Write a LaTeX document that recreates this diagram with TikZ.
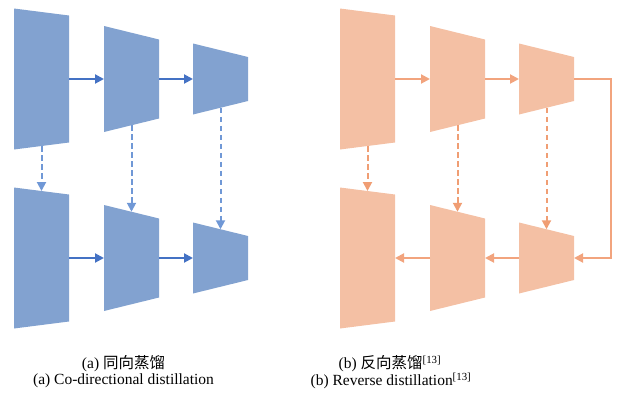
\documentclass[tikz,border=0pt]{standalone}
\usepackage{fontspec}
\setmainfont{Liberation Serif}
\newfontfamily\cjk{Noto Sans CJK SC}
\usetikzlibrary{arrows.meta,calc}
\definecolor{bfill}{HTML}{82A2D0}
\definecolor{barrow}{HTML}{4472C4}
\definecolor{bdash}{HTML}{7098D6}
\definecolor{ofill}{HTML}{F4C0A4}
\definecolor{oarrow}{HTML}{F2A47E}
\definecolor{odash}{HTML}{F09E74}
\tikzset{
  flow/.style={line width=2pt,-{Triangle[length=9pt,width=9pt]}},
  distil/.style={line width=2pt,dash pattern=on 5.5pt off 3.5pt,-{Triangle[length=9pt,width=9pt]}},
  caption/.style={inner sep=0pt,font=\fontsize{15.5}{18}\selectfont,align=center},
}
% \mytrap{name}{colour}{left x}{centre y}{left height}{right height}
\newcommand{\mytrap}[6]{%
  \coordinate (#1-lt) at (#3,{#4-#5/2});
  \coordinate (#1-lb) at (#3,{#4+#5/2});
  \coordinate (#1-rt) at ({#3+55},{#4-#6/2});
  \coordinate (#1-rb) at ({#3+55},{#4+#6/2});
  \fill[#2] (#1-lt) -- (#1-rt) -- (#1-rb) -- (#1-lb) -- cycle;
  \coordinate (#1-top) at ($(#1-lt)!0.5!(#1-rt)$);
  \coordinate (#1-bot) at ($(#1-lb)!0.5!(#1-rb)$);
  \coordinate (#1-w) at (#3,#4);
  \coordinate (#1-e) at ({#3+55},#4);
}
\begin{document}
\begin{tikzpicture}[x=1pt,y=-1pt]
\useasboundingbox (0,0) rectangle (620,394);
% (a) co-directional
\mytrap{a1}{bfill}{14}{79}{141}{127}
\mytrap{a2}{bfill}{104}{79}{106}{79}
\mytrap{a3}{bfill}{193}{79}{71}{44}
\mytrap{b1}{bfill}{14}{258}{141}{127}
\mytrap{b2}{bfill}{104}{258}{106}{79}
\mytrap{b3}{bfill}{193}{258}{71}{44}
\draw[flow,barrow] (a1-e) -- (a2-w);
\draw[flow,barrow] (a2-e) -- (a3-w);
\draw[flow,barrow] (b1-e) -- (b2-w);
\draw[flow,barrow] (b2-e) -- (b3-w);
\draw[distil,bdash] (a1-bot) -- (b1-top);
\draw[distil,bdash] (a2-bot) -- (b2-top);
\draw[distil,bdash] (a3-bot) -- (b3-top);
% (b) reverse
\mytrap{c1}{ofill}{340}{79}{141}{127}
\mytrap{c2}{ofill}{430}{79}{106}{79}
\mytrap{c3}{ofill}{519}{79}{71}{44}
\mytrap{d1}{ofill}{340}{258}{141}{127}
\mytrap{d2}{ofill}{430}{258}{106}{79}
\mytrap{d3}{ofill}{519}{258}{71}{44}
\coordinate (turn) at (611,79);
\draw[flow,oarrow] (c1-e) -- (c2-w);
\draw[flow,oarrow] (c2-e) -- (c3-w);
\draw[flow,oarrow] (c3-e) -- (turn) |- (d3-e);
\draw[flow,oarrow] (d3-w) -- (d2-e);
\draw[flow,oarrow] (d2-w) -- (d1-e);
\draw[distil,odash] (c1-bot) -- (d1-top);
\draw[distil,odash] (c2-bot) -- (d2-top);
\draw[distil,odash] (c3-bot) -- (d3-top);
% captions
\node[caption] (capa1) at (123.5,364) {(a) {\cjk 同向蒸馏}};
\node[caption] (capa2) at (123.5,381) {(a) Co-directional distillation};
\node[caption] (capb1) at (390,364) {(b) {\cjk 反向蒸馏}\textsuperscript{[13]}};
\node[caption] (capb2) at (391,381) {(b) Reverse distillation\textsuperscript{[13]}};
\end{tikzpicture}
\end{document}
